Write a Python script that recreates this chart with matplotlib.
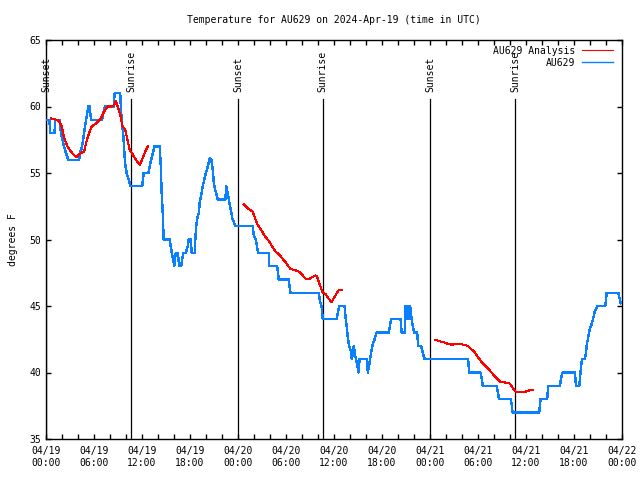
import matplotlib
matplotlib.use("Agg")
import matplotlib.pyplot as plt
import matplotlib.dates as mdates
from datetime import datetime, timedelta

# ---- data (hours since 2024-04-19 00:00 UTC, temperature in F) ----
obs_hours = [0, 0.44, 0.50, 1.06, 1.16, 1.69, 1.88, 2.25, 2.50, 2.79, 4.13, 4.26, 4.51, 4.76, 5.01,
             5.30, 5.45, 5.63, 7.01, 7.14, 7.39, 8.45, 8.58, 9.27, 9.45, 9.64, 9.89, 10.08, 10.33,
             10.58, 12.02, 12.21, 12.81, 12.96, 13.15, 13.56, 14.21, 14.34, 14.46, 14.59, 14.71,
             15.46, 15.59, 15.72, 15.90, 16.03, 16.22, 16.47, 16.65, 16.90, 17.15, 17.47, 17.72,
             17.84, 18.09, 18.22, 18.60, 18.66, 18.78, 18.91, 19.10, 19.22, 19.60, 19.85, 20.22,
             20.41, 20.54, 20.66, 20.85, 20.97, 21.16, 21.48, 22.41, 22.54, 22.66, 22.79, 22.98,
             23.29, 23.67, 25.83, 25.98, 26.23, 26.51, 27.84, 27.92, 28.89, 29.09, 30.34, 30.55,
             34.10, 34.25, 34.44, 34.60, 36.35, 36.50, 36.69, 37.32, 37.44, 37.60, 37.73, 37.88,
             38.07, 38.23, 38.36, 38.48, 38.63, 38.76, 38.94, 39.07, 39.19, 40.11, 40.23, 40.38,
             40.51, 40.79, 40.95, 41.13, 41.29, 42.86, 43.01, 43.16, 44.33, 44.45, 44.83, 44.95,
             45.08, 45.27, 45.39, 45.52, 45.71, 45.87, 46.02, 46.39, 46.54, 46.90, 47.08, 47.33,
             52.76, 52.91, 54.31, 54.47, 54.60, 56.31, 56.47, 56.64, 58.10, 58.23, 58.32, 61.65,
             61.82, 62.65, 62.78, 64.24, 64.36, 64.58, 66.12, 66.24, 66.66, 66.74, 66.87, 66.99,
             67.37, 67.49, 67.62, 67.74, 67.87, 68.06, 68.24, 68.37, 68.56, 68.75, 68.91, 69.91,
             70.09, 71.54, 71.69, 71.84]
obs_temp = [59, 59, 58, 58, 59, 59, 58, 57, 56.5, 56, 56, 56.5, 57, 58, 59,
            60, 60, 59, 59, 59.5, 60, 60, 61, 61, 59, 58, 55.7, 55, 54.5,
            54, 54, 55, 55, 55.5, 56, 57, 57, 55.6, 53.5, 52, 50,
            50, 49.5, 49, 48.5, 48, 49, 49, 48, 48, 49, 49, 49.5,
            50, 50, 49, 49, 50, 51, 51.6, 52, 52.8, 54, 54.7, 55.5,
            56, 56.1, 56, 55.2, 54.3, 53.7, 53, 53, 54, 53.6, 53.2, 52.6,
            51.6, 51, 51, 50.3, 50, 49, 49, 48, 48, 47, 47, 46,
            46, 45.3, 45, 44, 44, 44.6, 45, 45, 44.2, 43.4, 42.6, 42,
            41.7, 41, 41.5, 42, 41.3, 41, 40.5, 40, 41, 41, 40, 40.5,
            41, 42, 42.3, 42.6, 43, 43, 43.6, 44, 44, 43, 43, 45,
            44, 45, 44, 45, 44, 43.4, 43, 43, 42, 42, 41.5, 41,
            41, 40, 40, 39.5, 39, 39, 38.5, 38, 38, 37.5, 37, 37,
            38, 38, 39, 39, 39.5, 40, 40, 39, 39, 39.5, 40.4, 41,
            41, 41.5, 42.2, 42.5, 43, 43.4, 43.7, 44, 44.5, 44.8, 45, 45,
            46, 46, 45.6, 45.2]

ana1_hours = [0.66, 1.00, 1.38, 1.63, 1.97, 2.25, 2.67, 3.13, 3.51, 3.79, 4.35, 4.76, 5.05, 5.38,
              5.72, 6.22, 6.85, 7.26, 7.68, 8.14, 8.52, 8.73, 9.02, 9.27, 9.55, 9.89, 10.18,
              10.48, 10.73, 11.11, 11.43, 11.73, 12.06, 12.40, 12.74]
ana1_temp = [59.1, 59.05, 59.0, 58.9, 58.5, 57.7, 57.0, 56.6, 56.35, 56.2, 56.5, 56.6, 57.35, 58.0,
             58.5, 58.7, 59.1, 59.6, 60.0, 60.0, 60.1, 60.4, 59.9, 59.4, 58.5, 58.3, 57.5,
             56.7, 56.5, 56.1, 55.85, 55.6, 56.1, 56.6, 57.0]

ana2_hours = [24.71, 25.13, 25.55, 25.83, 26.08, 26.38, 26.67, 27.01, 27.42, 27.76, 28.05, 28.34,
              28.68, 29.09, 29.52, 29.93, 30.27, 30.55, 30.97, 31.39, 31.81, 32.22, 32.56, 32.93,
              33.35, 33.69, 33.90, 34.10, 34.35, 34.60, 34.94, 35.28, 35.69, 35.98, 36.28, 36.60,
              36.94]
ana2_temp = [52.65, 52.4, 52.2, 52.1, 51.7, 51.2, 50.9, 50.6, 50.2, 49.96, 49.7, 49.4,
             49.1, 48.9, 48.6, 48.3, 48.0, 47.8, 47.7, 47.65, 47.5, 47.2, 47.0, 47.05,
             47.2, 47.3, 47.2, 46.8, 46.4, 46.0, 45.9, 45.6, 45.3, 45.6, 45.9, 46.2,
             46.2]

ana3_hours = [48.59, 49.00, 49.43, 49.84, 50.25, 50.68, 51.30, 51.93, 52.34, 52.76, 53.18, 53.60,
              54.01, 54.43, 54.85, 55.26, 55.69, 56.10, 56.51, 56.81, 57.35, 57.89, 58.19, 58.48,
              58.73, 59.35, 59.98, 60.36, 60.90]
ana3_temp = [42.45, 42.4, 42.3, 42.25, 42.15, 42.1, 42.12, 42.12, 42.07, 42.0, 41.75, 41.5,
             41.15, 40.8, 40.55, 40.3, 40.0, 39.7, 39.45, 39.3, 39.25, 39.2, 39.0, 38.7,
             38.56, 38.56, 38.56, 38.65, 38.7]

sun_hours = [0.0, 10.66, 24.0, 34.6, 48.05, 58.66]
sun_labels = ["Sunset", "Sunrise", "Sunset", "Sunrise", "Sunset", "Sunrise"]

title = "Temperature for AU629 on 2024-Apr-19 (time in UTC)"
base = datetime(2024, 4, 19)

def to_dt(hs):
    return [base + timedelta(hours=h) for h in hs]

FONT = "DejaVu Sans Mono"
FS = 7
plt.rcParams['font.family'] = FONT
plt.rcParams['font.size'] = FS

fig = plt.figure(figsize=(6.4, 4.8), dpi=100)
ax = fig.add_axes([46/640, 1-439/480, 576/640, 399/480])

blue = "#0a80ff"
red = "#ff0000"

for i, (h, lab) in enumerate(zip(sun_hours, sun_labels)):
    t = base + timedelta(hours=h)
    ax.plot([t, t], [35, 60.6], color="black", lw=0.9, zorder=2)
    ax.text(t, 61.1, lab, rotation=90, ha="center", va="bottom", fontsize=FS)

l1, = ax.plot(to_dt(ana1_hours), ana1_temp, color=red, lw=0.8, antialiased=False, zorder=4,
              label="AU629 Analysis")
ax.plot(to_dt(ana2_hours), ana2_temp, color=red, lw=0.8, antialiased=False, zorder=4)
ax.plot(to_dt(ana3_hours), ana3_temp, color=red, lw=0.8, antialiased=False, zorder=4)
l2, = ax.plot(to_dt(obs_hours), obs_temp, color=blue, lw=1.0, antialiased=False, zorder=3,
              label="AU629")

ax.set_xlim(base, base + timedelta(hours=72))
ax.set_ylim(35, 65)
ax.set_yticks(range(35, 66, 5))
ax.xaxis.set_major_locator(mdates.HourLocator(byhour=range(0, 24, 6)))
ax.xaxis.set_minor_locator(mdates.HourLocator(byhour=range(0, 24, 2)))
ax.xaxis.set_major_formatter(mdates.DateFormatter("%m/%d\n%H:%M"))
ax.tick_params(which="both", direction="in", top=True, right=True, length=3.5, width=1,
               labelsize=FS)
ax.tick_params(axis="x", which="major", pad=5)
for sp in ax.spines.values():
    sp.set_linewidth(1.0)

ax.set_ylabel("degrees F", fontsize=FS, labelpad=8)
ax.set_title(title, fontsize=FS, pad=12)

leg = ax.legend(handles=[l1, l2], loc="upper right", frameon=False, markerfirst=False,
                fontsize=FS, handlelength=3.2, handletextpad=0.7, labelspacing=0.2,
                borderaxespad=0.2, bbox_to_anchor=(0.995, 1.0))

fig.savefig("out.png", dpi=100)
